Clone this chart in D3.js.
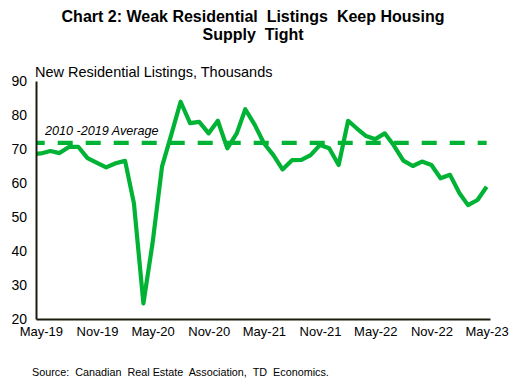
<!DOCTYPE html>
<html>
<head>
<meta charset="utf-8">
<script src="https://cdn.jsdelivr.net/npm/d3@7"></script>
<style>
  html, body { margin: 0; padding: 0; background: #fff; }
  svg { display: block; font-family: "Liberation Sans", Arial, sans-serif; }
</style>
</head>
<body>
<svg id="chart" width="517" height="385"></svg>
<script>
// ---- data ----
const titleLines = ["Chart 2: Weak Residential  Listings  Keep Housing", "Supply  Tight"];
const subtitle = "New Residential Listings, Thousands";
const sourceText = "Source:  Canadian  Real Estate  Association,  TD  Economics.";
const averageLabel = "2010 -2019 Average";
const months = [
  "2019-04","2019-05","2019-06","2019-07","2019-08","2019-09","2019-10","2019-11","2019-12",
  "2020-01","2020-02","2020-03","2020-04","2020-05","2020-06","2020-07","2020-08","2020-09","2020-10","2020-11","2020-12",
  "2021-01","2021-02","2021-03","2021-04","2021-05","2021-06","2021-07","2021-08","2021-09","2021-10","2021-11","2021-12",
  "2022-01","2022-02","2022-03","2022-04","2022-05","2022-06","2022-07","2022-08","2022-09","2022-10","2022-11","2022-12",
  "2023-01","2023-02","2023-03","2023-04","2023-05"
];
const listings = [
  68.5, 68.7, 69.4, 68.8, 70.6, 70.6, 67.3, 65.9, 64.6,
  65.8, 66.5, 54.0, 24.6, 42.3, 64.8, 74.1, 83.9, 77.6, 78.0, 74.6, 78.3,
  70.2, 74.6, 81.7, 77.1, 71.7, 68.2, 64.0, 66.7, 66.8, 68.2, 71.2, 70.2,
  65.3, 78.3, 76.1, 73.8, 72.9, 74.6, 71.0, 66.6, 65.0, 66.3, 65.3, 61.4,
  62.4, 57.0, 53.5, 55.0, 58.9
];
const average = 71.8;
const yTicks = [20, 30, 40, 50, 60, 70, 80, 90];
const xTickMonths = ["2019-05","2019-11","2020-05","2020-11","2021-05","2021-11","2022-05","2022-11","2023-05"];
const xDomain = ["2019-04-15", "2023-05-12"];

// ---- drawing ----
const svg = d3.select("#chart");
const parse = d3.timeParse("%Y-%m");
const parseDay = d3.timeParse("%Y-%m-%d");
const data = months.map((m, i) => ({ date: parse(m), value: listings[i] }));

const plotLeft = 36, plotRight = 490, plotTop = 81, plotBottom = 319;
const x = d3.scaleTime().domain(xDomain.map(parseDay)).range([plotLeft, plotRight]);
const y = d3.scaleLinear().domain([20, 90]).range([plotBottom, plotTop]);

const green = "#00b334";
const axisColor = "#1c1c0c";

// title
svg.append("g").selectAll("text").data(titleLines).join("text")
  .attr("x", 253).attr("y", (d, i) => 22 + i * 18)
  .attr("text-anchor", "middle")
  .attr("font-weight", "bold").attr("font-size", 16).attr("fill", "#000")
  .attr("xml:space", "preserve")
  .style("white-space", "pre")
  .text(d => d);

// subtitle
svg.append("text").attr("x", 35).attr("y", 77)
  .attr("font-size", 14.5).attr("fill", "#000").text(subtitle);

// clip
svg.append("clipPath").attr("id", "plotclip").append("rect")
  .attr("x", plotLeft).attr("y", 0).attr("width", plotRight - plotLeft).attr("height", 385);

// average dashed line
svg.append("line")
  .attr("clip-path", "url(#plotclip)")
  .attr("x1", x(data[0].date)).attr("x2", x(data[data.length - 1].date))
  .attr("y1", y(average)).attr("y2", y(average))
  .attr("stroke", green).attr("stroke-width", 4.2)
  .attr("stroke-dasharray", "15,13").attr("stroke-dashoffset", 2);

// average label
svg.append("text").attr("x", 45).attr("y", 135)
  .attr("font-size", 12.6).attr("font-style", "italic").attr("fill", "#000")
  .attr("xml:space", "preserve").style("white-space", "pre")
  .text(averageLabel);

// series line
const line = d3.line().x(d => x(d.date)).y(d => y(d.value));
svg.append("path").datum(data)
  .attr("clip-path", "url(#plotclip)")
  .attr("d", line).attr("fill", "none")
  .attr("stroke", green).attr("stroke-width", 4.2)
  .attr("stroke-linejoin", "round").attr("stroke-linecap", "butt");

// y axis
const yAxis = d3.axisLeft(y).tickValues(yTicks).tickSize(0).tickPadding(9);
const gy = svg.append("g").attr("transform", `translate(${plotLeft},0)`).call(yAxis);
gy.select(".domain").attr("stroke", axisColor).attr("stroke-width", 2);
gy.selectAll("text").attr("font-size", 14).attr("fill", "#000")
  .attr("font-family", "'Liberation Sans', Arial, sans-serif");

// x axis
const xAxis = d3.axisBottom(x).tickValues(xTickMonths.map(parse))
  .tickFormat(d3.timeFormat("%b-%y")).tickSize(0).tickPadding(8);
const gx = svg.append("g").attr("transform", `translate(0,${plotBottom})`).call(xAxis);
gx.select(".domain").attr("stroke", axisColor).attr("stroke-width", 2);
gx.selectAll("text").attr("font-size", 13).attr("fill", "#000")
  .attr("font-family", "'Liberation Sans', Arial, sans-serif");

// source
svg.append("text").attr("x", 32).attr("y", 376)
  .attr("font-size", 10.8).attr("fill", "#000")
  .attr("xml:space", "preserve").style("white-space", "pre")
  .text(sourceText);
</script>
</body>
</html>
